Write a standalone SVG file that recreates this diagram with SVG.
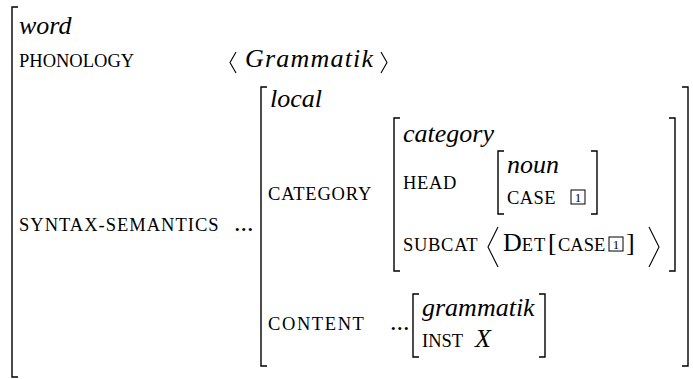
<svg xmlns="http://www.w3.org/2000/svg" width="693" height="379" viewBox="0 0 693 379">
<style>
.br{fill:none;stroke:#000;stroke-width:1.4}
.ang{fill:none;stroke:#000;stroke-width:1.1}
.box{fill:none;stroke:#000;stroke-width:1}
.it{font-style:italic;font-size:26px}
.sc{font-size:18.5px}
.rm{font-size:26px}
.num{font-size:13px}
</style>
<rect width="693" height="379" fill="#fff"/>
<g id="avm-word" font-family="Liberation Serif, serif">
<path class="br" d="M18,7H12V377H18"/>
<text class="it" x="19" y="34">word</text>
<text class="sc" x="19" y="67">PHONOLOGY</text>
<polyline class="ang" points="236,52 230,62.5 236,73"/>
<text class="it" x="245" y="67" letter-spacing="1.2">Grammatik</text>
<polyline class="ang" points="381,52 387,62.5 381,73"/>
<text class="sc" x="19" y="231" letter-spacing="1">SYNTAX-SEMANTICS</text>
<text class="rm" x="234" y="231">...</text>
</g>
<g id="avm-local" font-family="Liberation Serif, serif">
<path class="br" d="M267,87H261V366H267"/>
<path class="br" d="M682,87H688V366H682"/>
<text class="it" x="270" y="107">local</text>
<text class="sc" x="268" y="200" letter-spacing="0.8">CATEGORY</text>
<text class="sc" x="268" y="330" letter-spacing="1.6">CONTENT</text>
<text class="rm" x="390" y="330">...</text>
</g>
<g id="avm-category" font-family="Liberation Serif, serif">
<path class="br" d="M400,118H394V271H400"/>
<path class="br" d="M669,118H675V271H669"/>
<text class="it" x="403" y="142">category</text>
<text class="sc" x="403" y="189" letter-spacing="0.7">HEAD</text>
<text class="sc" x="403" y="251" letter-spacing="0.7">SUBCAT</text>
<polyline class="ang" points="498,227 488,247 498,267"/>
<text x="503" y="251"><tspan class="rm">D</tspan><tspan class="sc" letter-spacing="1">ET</tspan></text>
<text class="rm" x="548" y="251">[</text>
<text class="sc" x="558" y="251">CASE</text>
<rect class="box" x="609" y="237" width="14" height="14"/>
<text class="num" x="616" y="249" text-anchor="middle">1</text>
<text class="rm" x="626" y="251">]</text>
<polyline class="ang" points="649,227 659,247 649,267"/>
</g>
<g id="avm-noun" font-family="Liberation Serif, serif">
<path class="br" d="M504,151H498V214H504"/>
<path class="br" d="M591,151H597V214H591"/>
<text class="it" x="507" y="173">noun</text>
<text class="sc" x="507" y="204" letter-spacing="0.4">CASE</text>
<rect class="box" x="571" y="190" width="14" height="14"/>
<text class="num" x="578" y="202" text-anchor="middle">1</text>
</g>
<g id="avm-grammatik" font-family="Liberation Serif, serif">
<path class="br" d="M419,294H413V357H419"/>
<path class="br" d="M539,294H545V357H539"/>
<text class="it" x="422" y="316">grammatik</text>
<text class="sc" x="422" y="347">INST</text>
<text class="it" x="475" y="347">X</text>
</g>
</svg>
